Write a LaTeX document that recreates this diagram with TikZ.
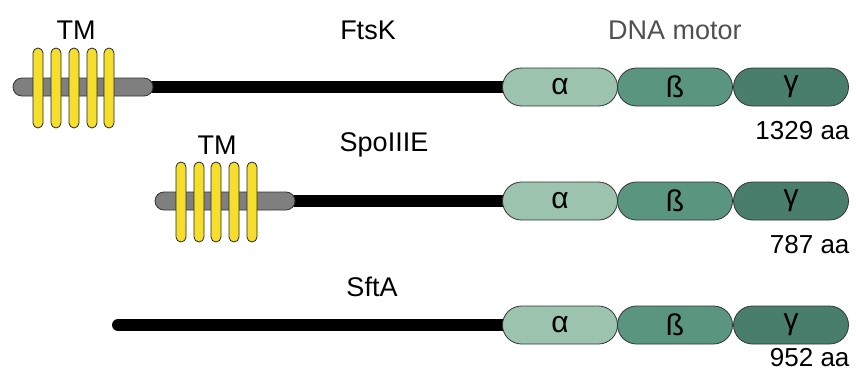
\documentclass[tikz,border=0pt]{standalone}
\usepackage{fontspec}
\setmainfont{Liberation Sans}
\usetikzlibrary{shapes.misc,backgrounds}
\definecolor{alphac}{HTML}{9BC3AE}
\definecolor{betac}{HTML}{5A9580}
\definecolor{gammac}{HTML}{4A7E6C}
\definecolor{tmgray}{HTML}{7F7F7F}
\definecolor{tmyel}{HTML}{F6DE2C}
\definecolor{lbl}{HTML}{505050}
\tikzset{
  dom/.style={rounded rectangle, draw=black!80, line width=0.8pt, minimum width=115pt, minimum height=38pt, inner sep=0pt, font=\fontsize{30}{32}\selectfont},
  anchorbar/.style={rounded rectangle, draw=black!80, fill=tmgray, line width=0.8pt, minimum width=140pt, minimum height=18pt, inner sep=0pt},
  helix/.style={rectangle, rounded corners=5pt, draw=black!85, fill=tmyel, line width=0.8pt, minimum width=10pt, minimum height=80pt, inner sep=0pt},
  linker/.style={line width=12pt, line cap=round, black},
  title/.style={font=\fontsize{27}{30}\selectfont},
  size/.style={font=\fontsize{26}{30}\selectfont, anchor=east}
}
\begin{document}
\begin{tikzpicture}[x=1pt,y=-1pt]
\useasboundingbox (0,0) rectangle (857,380);
% Row 1: FtsK
\node[anchorbar] (g1) at (83,87) {};
\foreach \i/\x in {1/38,2/56,3/74,4/92,5/109}{\node[helix] (h1\i) at (\x,88) {};}
\node[dom, fill=alphac] (a1) at (560,87) {α};
\node[dom, fill=betac] (b1) at (675,87) {ß};
\node[dom, fill=gammac] (c1) at (791,87) {γ};
\node[title] (tm1) at (76,30) {TM};
\node[title] (n1) at (368,30) {FtsK};
\node[title, text=lbl] (dna) at (675,30) {DNA motor};
\node[size] (s1) at (853,131) {1329 aa};
% Row 2: SpoIIIE
\node[anchorbar] (g2) at (225,201) {};
\foreach \i/\x in {1/181,2/199,3/216,4/234,5/252}{\node[helix] (h2\i) at (\x,202) {};}
\node[dom, fill=alphac] (a2) at (560,201) {α};
\node[dom, fill=betac] (b2) at (675,201) {ß};
\node[dom, fill=gammac] (c2) at (791,201) {γ};
\node[title] (tm2) at (217,145) {TM};
\node[title] (n2) at (384,145) {SpoIIIE};
\node[size] (s2) at (853,245) {787 aa};
% Row 3: SftA
\coordinate (e3) at (118,325);
\node[dom, fill=alphac] (a3) at (560,325) {α};
\node[dom, fill=betac] (b3) at (675,325) {ß};
\node[dom, fill=gammac] (c3) at (791,325) {γ};
\node[title] (n3) at (372,287) {SftA};
\node[size] (s3) at (853,358) {952 aa};
\begin{scope}[on background layer]
\draw[linker] (g1.east) -- (a1.west);
\draw[linker] (g2.east) -- (a2.west);
\draw[linker] (e3) -- (a3.west);
\end{scope}
\end{tikzpicture}
\end{document}
